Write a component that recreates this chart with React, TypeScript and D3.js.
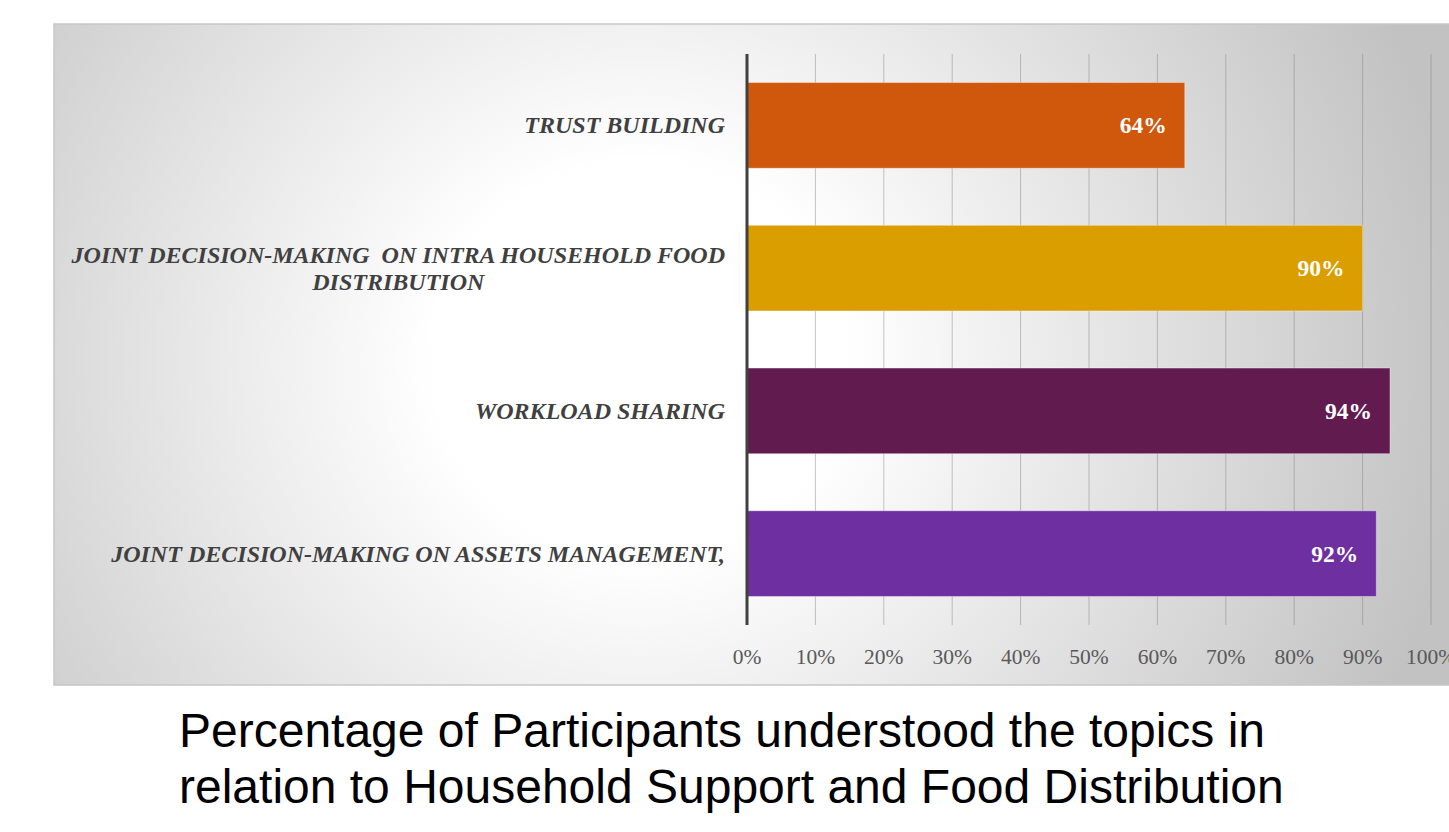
import { useEffect, useRef } from 'react'
import * as d3 from 'd3'

const categories = [
    ['TRUST BUILDING'],
    ['JOINT DECISION-MAKING  ON INTRA HOUSEHOLD FOOD', 'DISTRIBUTION'],
    ['WORKLOAD SHARING'],
    ['JOINT DECISION-MAKING ON ASSETS MANAGEMENT,'],
]
const values = [0.64, 0.9, 0.94, 0.92]
const barColors = ['#d0580d', '#da9e00', '#621b4f', '#6e2fa0']
const tickValues = [0, 0.1, 0.2, 0.3, 0.4, 0.5, 0.6, 0.7, 0.8, 0.9, 1]
const titleLines = [
    'Percentage of Participants understood the topics in',
    'relation to Household Support and Food Distribution',
]

export default function App() {
    const svgRef = useRef<SVGSVGElement>(null);

    useEffect(() => {
        if (!svgRef.current) return;

        const svg = d3.select(svgRef.current);
        const width = 1449;
        const height = 832;
        const plot = { left: 747, right: 1431, top: 54, bottom: 625 };
        const serif = '"Liberation Serif", "Times New Roman", serif';

        svg.attr('width', width).attr('height', height);
        svg.selectAll('*').remove();

        // soft grey radial background like the slide
        const defs = svg.append('defs');
        const grad = defs.append('radialGradient')
            .attr('id', 'bg')
            .attr('gradientUnits', 'userSpaceOnUse')
            .attr('cx', 640)
            .attr('cy', 360)
            .attr('r', 830)
            .attr('gradientTransform', 'translate(640,360) scale(1,0.95) translate(-640,-360)');
        grad.append('stop').attr('offset', 0).attr('stop-color', '#ffffff');
        grad.append('stop').attr('offset', 0.25).attr('stop-color', '#ffffff');
        grad.append('stop').attr('offset', 1).attr('stop-color', '#c2c2c2');

        svg.append('rect')
            .attr('x', 54)
            .attr('y', 24)
            .attr('width', 1420)
            .attr('height', 661)
            .attr('fill', 'url(#bg)')
            .attr('stroke', '#c6c6c6')
            .attr('stroke-width', 1.5);

        const x = d3.scaleLinear()
            .domain([0, 1])
            .range([plot.left, plot.right]);
        const y = d3.scaleBand()
            .domain(categories.map(d => d.join(' ')))
            .range([plot.top, plot.bottom])
            .paddingInner(0.4)
            .paddingOuter(0.2);

        // vertical gridlines
        svg.append('g')
            .selectAll('line')
            .data(tickValues.slice(1))
            .enter()
            .append('line')
            .attr('x1', d => x(d))
            .attr('x2', d => x(d))
            .attr('y1', plot.top)
            .attr('y2', plot.bottom)
            .attr('stroke', '#7f7f7f')
            .attr('stroke-opacity', 0.45)
            .attr('stroke-width', 1);

        svg.selectAll('.bar')
            .data(values)
            .enter()
            .append('rect')
            .attr('class', 'bar')
            .attr('x', x(0))
            .attr('y', (_, i) => y(categories[i].join(' ')) || 0)
            .attr('width', d => x(d) - x(0))
            .attr('height', y.bandwidth())
            .attr('fill', (_, i) => barColors[i])
            .attr('stroke', '#ffffff')
            .attr('stroke-opacity', 0.35)
            .attr('stroke-width', 1);

        svg.selectAll('.bar-label')
            .data(values)
            .enter()
            .append('text')
            .attr('class', 'bar-label')
            .attr('x', d => x(d) - 18)
            .attr('y', (_, i) => (y(categories[i].join(' ')) || 0) + y.bandwidth() / 2 + 8)
            .attr('text-anchor', 'end')
            .attr('font-family', serif)
            .attr('font-weight', 'bold')
            .attr('font-size', '23.5px')
            .attr('fill', '#ffffff')
            .text(d => d3.format('.0%')(d));

        // axis line on the left of the bars
        svg.append('line')
            .attr('x1', x(0))
            .attr('x2', x(0))
            .attr('y1', plot.top)
            .attr('y2', plot.bottom)
            .attr('stroke', '#404040')
            .attr('stroke-width', 3);

        svg.append('g')
            .selectAll('text')
            .data(tickValues)
            .enter()
            .append('text')
            .attr('x', d => x(d))
            .attr('y', 664)
            .attr('text-anchor', 'middle')
            .attr('font-family', serif)
            .attr('font-size', '21.5px')
            .attr('fill', '#595959')
            .text(d => d3.format('.0%')(d));

        // category labels, multi-line ones centred under their first line
        categories.forEach(lines => {
            const cy = (y(lines.join(' ')) || 0) + y.bandwidth() / 2;
            const lineH = 27;
            const first = cy - (lines.length - 1) * lineH / 2 + 8;
            const g = svg.append('g');
            const t0 = g.append('text')
                .attr('x', 725)
                .attr('y', first)
                .attr('text-anchor', 'end')
                .attr('font-family', serif)
                .attr('font-weight', 'bold')
                .attr('font-style', 'italic')
                .attr('font-size', '24px')
                .attr('fill', '#404040')
                .style('white-space', 'pre')
                .text(lines[0]);
            const w = (t0.node() as SVGTextElement).getComputedTextLength();
            lines.slice(1).forEach((l, j) => {
                g.append('text')
                    .attr('x', 725 - w / 2)
                    .attr('y', first + (j + 1) * lineH)
                    .attr('text-anchor', 'middle')
                    .attr('font-family', serif)
                    .attr('font-weight', 'bold')
                    .attr('font-style', 'italic')
                    .attr('font-size', '24px')
                    .attr('fill', '#404040')
                    .text(l);
            });
        });

        svg.append('g')
            .selectAll('text')
            .data(titleLines)
            .enter()
            .append('text')
            .attr('x', 179)
            .attr('y', (_, i) => 747 + i * 56)
            .attr('font-family', '"Liberation Sans", Arial, sans-serif')
            .attr('font-size', '48px')
            .attr('fill', '#000000')
            .text(d => d);
    }, []);

    return <svg ref={svgRef} style={{ position: 'absolute', left: 0, top: 0 }} />;
}
